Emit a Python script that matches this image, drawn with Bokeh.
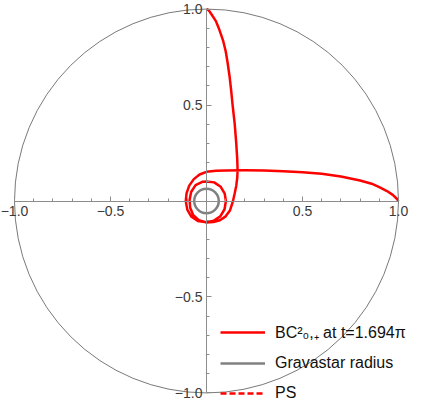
from bokeh.plotting import figure
from bokeh.models import (FixedTicker, CustomJSTickFormatter, Legend, LegendItem, Range1d)
from bokeh.embed import file_html
from bokeh.resources import INLINE

# ---------------- data ----------------
major_ticks = [-1.0, -0.5, 0.5, 1.0]
minor_ticks = [-0.9, -0.8, -0.7, -0.6, -0.4, -0.3, -0.2, -0.1,
               0.1, 0.2, 0.3, 0.4, 0.6, 0.7, 0.8, 0.9]

# trajectory BC^2_{0,+} at t = 1.694 pi
curve_x = [0.0, 0.012, 0.0275, 0.049, 0.064, 0.086, 0.1, 0.11, 0.12, 0.128,
           0.136, 0.147, 0.155, 0.16, 0.162, 0.16, 0.155, 0.147, 0.138,
           0.122, 0.1, 0.07, 0.035, 0.0,
           -0.04, -0.07, -0.085, -0.088, -0.08, -0.057, -0.022, 0.0,
           0.04, 0.074, 0.095, 0.101, 0.094, 0.072, 0.037, 0.0,
           -0.045, -0.08, -0.1, -0.108, -0.104, -0.09, -0.066, -0.036,
           0.0, 0.05, 0.1, 0.2, 0.3, 0.4, 0.5, 0.6, 0.7, 0.8, 0.86,
           0.9, 0.94, 0.97, 0.99, 1.0]
curve_y = [1.0, 0.993, 0.97, 0.937, 0.9, 0.837, 0.78, 0.72, 0.65, 0.58,
           0.5, 0.4, 0.3, 0.22, 0.16, 0.12, 0.08, 0.04, 0.0,
           -0.05, -0.08, -0.1, -0.11, -0.112,
           -0.1, -0.072, -0.035, 0.005, 0.047, 0.083, 0.1, 0.102,
           0.097, 0.074, 0.038, 0.0, -0.043, -0.08, -0.103, -0.111,
           -0.104, -0.08, -0.045, 0.0, 0.04, 0.08, 0.114, 0.138,
           0.152, 0.157, 0.159, 0.16, 0.159, 0.155, 0.15, 0.142, 0.128,
           0.107, 0.09, 0.072, 0.052, 0.032, 0.013, 0.0]

center_x = [0.0]
center_y = [0.0]
boundary_diameter = [2.0]      # unit circle
gravastar_diameter = [0.128]   # gravastar radius circle

legend_labels = ["BC\u00b2\u2080,\u208a at t=1.694\u03c0", "Gravastar radius", "PS"]

nan = float("nan")

# ---------------- figure ----------------
p = figure(width=409, height=401, output_backend="svg", toolbar_location=None,
           title=None, x_range=Range1d(-1.0729, 1.0573), y_range=Range1d(-1.0443, 1.0443),
           match_aspect=False)
p.min_border = 0
p.min_border_left = 0
p.min_border_right = 0
p.min_border_top = 0
p.min_border_bottom = 0
p.outline_line_color = None
p.background_fill_color = "white"
p.border_fill_color = "white"
p.xgrid.visible = False
p.ygrid.visible = False

fmt = CustomJSTickFormatter(code="return tick.toFixed(1).replace('-', '\u2212');")
for ax in (p.xaxis[0], p.yaxis[0]):
    ax.fixed_location = 0
    ax.bounds = (-1, 1)
    ax.ticker = FixedTicker(ticks=major_ticks, minor_ticks=minor_ticks)
    ax.formatter = fmt
    ax.axis_line_color = "#8c8c8c"
    ax.axis_line_width = 1
    ax.major_tick_line_color = "#8c8c8c"
    ax.minor_tick_line_color = "#8c8c8c"
    ax.major_tick_in = 5
    ax.major_tick_out = 0
    ax.minor_tick_in = 3
    ax.minor_tick_out = 0
    ax.major_label_text_font = "Liberation Sans"
    ax.major_label_text_font_size = "14px"
    ax.major_label_text_color = "#3a3a3a"
p.xaxis[0].major_label_standoff = 5
p.yaxis[0].major_label_standoff = 4

# unit circle
p.ellipse(x=center_x, y=center_y, width=boundary_diameter, height=boundary_diameter,
          fill_color=None, line_color="#6a6a6a", line_width=0.9)
# gravastar radius circle
p.ellipse(x=center_x, y=center_y, width=gravastar_diameter, height=gravastar_diameter,
          fill_color=None, line_color="#808080", line_width=2.5)
# trajectory
curve = p.line(curve_x, curve_y, line_color="#ff0000", line_width=2.5, line_join="round")

# legend proxies (no visible data)
grav_proxy = p.line(x=[nan], y=[nan], line_color="#808080", line_width=2.5)
ps_proxy = p.line(x=[nan], y=[nan], line_color="#ff0000", line_width=2.5, line_dash="6 3")

legend = Legend(items=[LegendItem(label=legend_labels[0], renderers=[curve]),
                       LegendItem(label=legend_labels[1], renderers=[grav_proxy]),
                       LegendItem(label=legend_labels[2], renderers=[ps_proxy])],
                location=(220, -2), padding=0, margin=0, spacing=10,
                glyph_width=45, glyph_height=20, label_height=20,
                label_standoff=10, label_text_font="Liberation Sans",
                label_text_font_size="16px", label_text_color="#111111",
                background_fill_alpha=0, border_line_alpha=0)
p.add_layout(legend)

open("out.html", "w").write(file_html(p, INLINE))
